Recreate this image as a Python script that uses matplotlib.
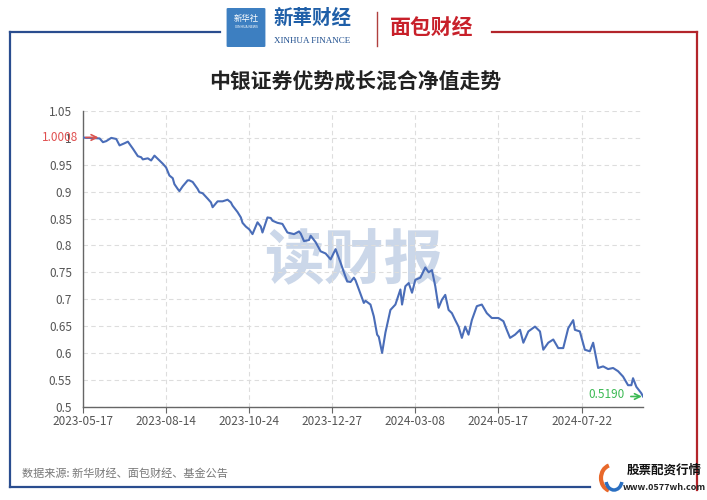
import matplotlib
matplotlib.use('Agg')
import matplotlib.pyplot as plt
from matplotlib.patches import FancyBboxPatch, Arc
from matplotlib.lines import Line2D

plt.rcParams['font.family'] = ['Noto Sans CJK SC', 'DejaVu Sans']

# trading-day index and NAV
day_idx = [0, 2, 4, 10, 12, 14, 17, 20, 22, 25, 27, 30, 33, 35, 36, 39, 41, 43, 46, 48,
           50, 52, 54, 55, 57, 58, 60, 63, 64, 66, 69, 70, 72, 75, 77, 78, 81, 84, 87, 89,
           90, 93, 95, 96, 98, 100, 102, 105, 107, 108, 111, 113, 114, 117, 120, 123, 127, 130, 131, 133,
           136, 137, 140, 143, 146, 149, 152, 155, 157, 159, 161, 163, 164, 166, 169, 170, 173, 175, 177, 178,
           180, 182, 185, 188, 191, 192, 194, 196, 198, 200, 203, 206, 208, 210, 212, 214, 216, 218, 220, 222,
           224, 226, 228, 230, 232, 234, 237, 240, 243, 246, 250, 253, 255, 257, 260, 263, 265, 268, 272, 275,
           277, 280, 283, 286, 289, 292, 295, 296, 299, 302, 305, 307, 310, 313, 316, 319, 322, 325, 328, 330,
           331, 333, 336, 337]
nav = [1.0008, 1.0, 1.0, 0.999, 0.992, 0.994, 1.0, 0.998, 0.986, 0.99, 0.993, 0.98, 0.966, 0.964, 0.960, 0.962, 0.958, 0.967, 0.958, 0.952,
       0.945, 0.93, 0.925, 0.914, 0.905, 0.901, 0.91, 0.921, 0.921, 0.918, 0.905, 0.899, 0.897, 0.887, 0.88, 0.871, 0.882, 0.882, 0.885, 0.88,
       0.874, 0.862, 0.852, 0.842, 0.835, 0.83, 0.821, 0.843, 0.835, 0.824, 0.852, 0.851, 0.846, 0.842, 0.84, 0.824, 0.821, 0.826, 0.822, 0.808,
       0.81, 0.818, 0.806, 0.789, 0.785, 0.774, 0.793, 0.768, 0.75, 0.733, 0.732, 0.74, 0.735, 0.718, 0.693, 0.697, 0.69, 0.668, 0.634, 0.63,
       0.600, 0.638, 0.680, 0.69, 0.718, 0.690, 0.724, 0.730, 0.712, 0.736, 0.740, 0.759, 0.75, 0.754, 0.724, 0.684, 0.699, 0.708, 0.68, 0.674,
       0.661, 0.649, 0.628, 0.649, 0.634, 0.661, 0.687, 0.69, 0.674, 0.665, 0.665, 0.659, 0.643, 0.628, 0.634, 0.643, 0.619, 0.640, 0.649, 0.640,
       0.606, 0.619, 0.625, 0.609, 0.609, 0.646, 0.661, 0.643, 0.640, 0.606, 0.603, 0.619, 0.572, 0.575, 0.570, 0.572, 0.566, 0.556, 0.540, 0.540,
       0.553, 0.537, 0.525, 0.519]
tick_idx = [0, 50, 100, 150, 200, 250, 300]
tick_labels = ['2023-05-17', '2023-08-14', '2023-10-24', '2023-12-27', '2024-03-08', '2024-05-17', '2024-07-22']
yticks = [0.5, 0.55, 0.6, 0.65, 0.7, 0.75, 0.8, 0.85, 0.9, 0.95, 1.0, 1.05]
start_label = '1.0008'
end_label = '0.5190'

fig = plt.figure(figsize=(7.07, 5.0), dpi=100)
fig.patch.set_facecolor('white')

# frame lines (blue left/bottom, red right)
blue = '#2a4d8f'
red = '#b3252b'
fig.add_artist(Line2D([10/707, 10/707], [1-32/500, 1-487/500], color=blue, lw=1.6))
fig.add_artist(Line2D([10/707, 220/707], [1-32/500, 1-32/500], color=blue, lw=1.6))
fig.add_artist(Line2D([10/707, 590/707], [1-487/500, 1-487/500], color=blue, lw=1.6))
fig.add_artist(Line2D([492/707, 697/707], [1-32/500, 1-32/500], color=red, lw=1.6))
fig.add_artist(Line2D([697/707, 697/707], [1-32/500, 1-490/500], color=red, lw=1.6))

# header logos
fig.add_artist(FancyBboxPatch((228/707, 1-46/500), 36/707, 37/500, boxstyle='round,pad=0.002',
                              transform=fig.transFigure, facecolor='#3d7fc1', edgecolor='none'))
fig.text(246/707, 1-19/500, '新华社', color='white', fontsize=6, ha='center', va='center')
fig.text(246/707, 1-27/500, 'XINHUA NEWS', color='white', fontsize=2.5, ha='center', va='center')
fig.text(312/707, 1-18/500, '新華财经', color='#1f5fa8', fontsize=14, fontweight='bold', style='italic',
         ha='center', va='center')
fig.text(312/707, 1-41/500, 'XINHUA FINANCE', color='#1f4f8f', fontsize=6.5, ha='center', va='center',
         family='Liberation Serif')
fig.add_artist(Line2D([377/707, 377/707], [1-12/500, 1-46/500], color='#b0403f', lw=1))
fig.text(432/707, 1-27/500, '面包财经', color='#c8202a', fontsize=15, fontweight='bold', ha='center', va='center')

fig.text(355/707, 1-82/500, '中银证券优势成长混合净值走势', fontsize=15, fontweight='bold',
         ha='center', va='center', color='#222222')

ax = fig.add_axes([83/707, 1-406.7/500, 560/707, (406.7-111)/500])
ax.text(0.484, 0.49, '读财报', transform=ax.transAxes, fontsize=43, fontweight='bold',
        color='#cbd7e9', ha='center', va='center', zorder=0)

ax.plot(day_idx, nav, color='#4a6db8', lw=1.5, zorder=3)

ax.set_xlim(0, 337)
ax.set_ylim(0.5, 1.05)
ax.set_yticks(yticks)
ax.set_yticklabels(['%g' % v for v in yticks])
ax.set_xticks(tick_idx)
ax.set_xticklabels(tick_labels)
ax.tick_params(axis='y', length=0, labelsize=8.5, labelcolor='#555555', pad=8)
ax.tick_params(axis='x', length=4, color='#666666', labelsize=8.5, labelcolor='#555555', pad=2)
ax.grid(True, color='#dddddd', ls=(0, (4, 3)), lw=0.8)
ax.set_axisbelow(True)
for s in ['top', 'right']:
    ax.spines[s].set_visible(False)
for s in ['left', 'bottom']:
    ax.spines[s].set_color('#666666')
    ax.spines[s].set_linewidth(1)

# start / end markers
ax.annotate('', xy=(day_idx[0] + 11, nav[0]), xytext=(day_idx[0], nav[0]),
            arrowprops=dict(arrowstyle='->', color='#d9534f', lw=1.2), annotation_clip=False)
ax.text(-3, nav[0], start_label, color='#e05050', fontsize=8.5, ha='right', va='center')
ax.annotate('', xy=(day_idx[-1] + 1, nav[-1]), xytext=(day_idx[-1] - 9, nav[-1]),
            arrowprops=dict(arrowstyle='->', color='#3cba54', lw=1.2), annotation_clip=False)
ax.text(day_idx[-1] - 11, nav[-1] + 0.003, end_label, color='#3cba54', fontsize=8.5, ha='right', va='center')

fig.text(22/707, 1-474/500, '数据来源: 新华财经、面包财经、基金公告', fontsize=8, color='#777777',
         ha='left', va='center')

# bottom-right site logo
fig.add_artist(Arc((612/707, 1-478/500), 22/707, 26/500, theta1=100, theta2=260,
                   transform=fig.transFigure, color='#e8682a', lw=3))
fig.add_artist(Arc((614/707, 1-480/500), 16/707, 20/500, theta1=200, theta2=340,
                   transform=fig.transFigure, color='#2a6fc1', lw=2.5))
fig.text(664/707, 1-470/500, '股票配资行情', fontsize=9, fontweight='bold', color='#111111',
         ha='center', va='center')
fig.text(664/707, 1-487/500, 'www.0577wh.com', fontsize=6.5, fontweight='bold', color='#222222',
         ha='center', va='center')

fig.savefig('out.png', dpi=100)
